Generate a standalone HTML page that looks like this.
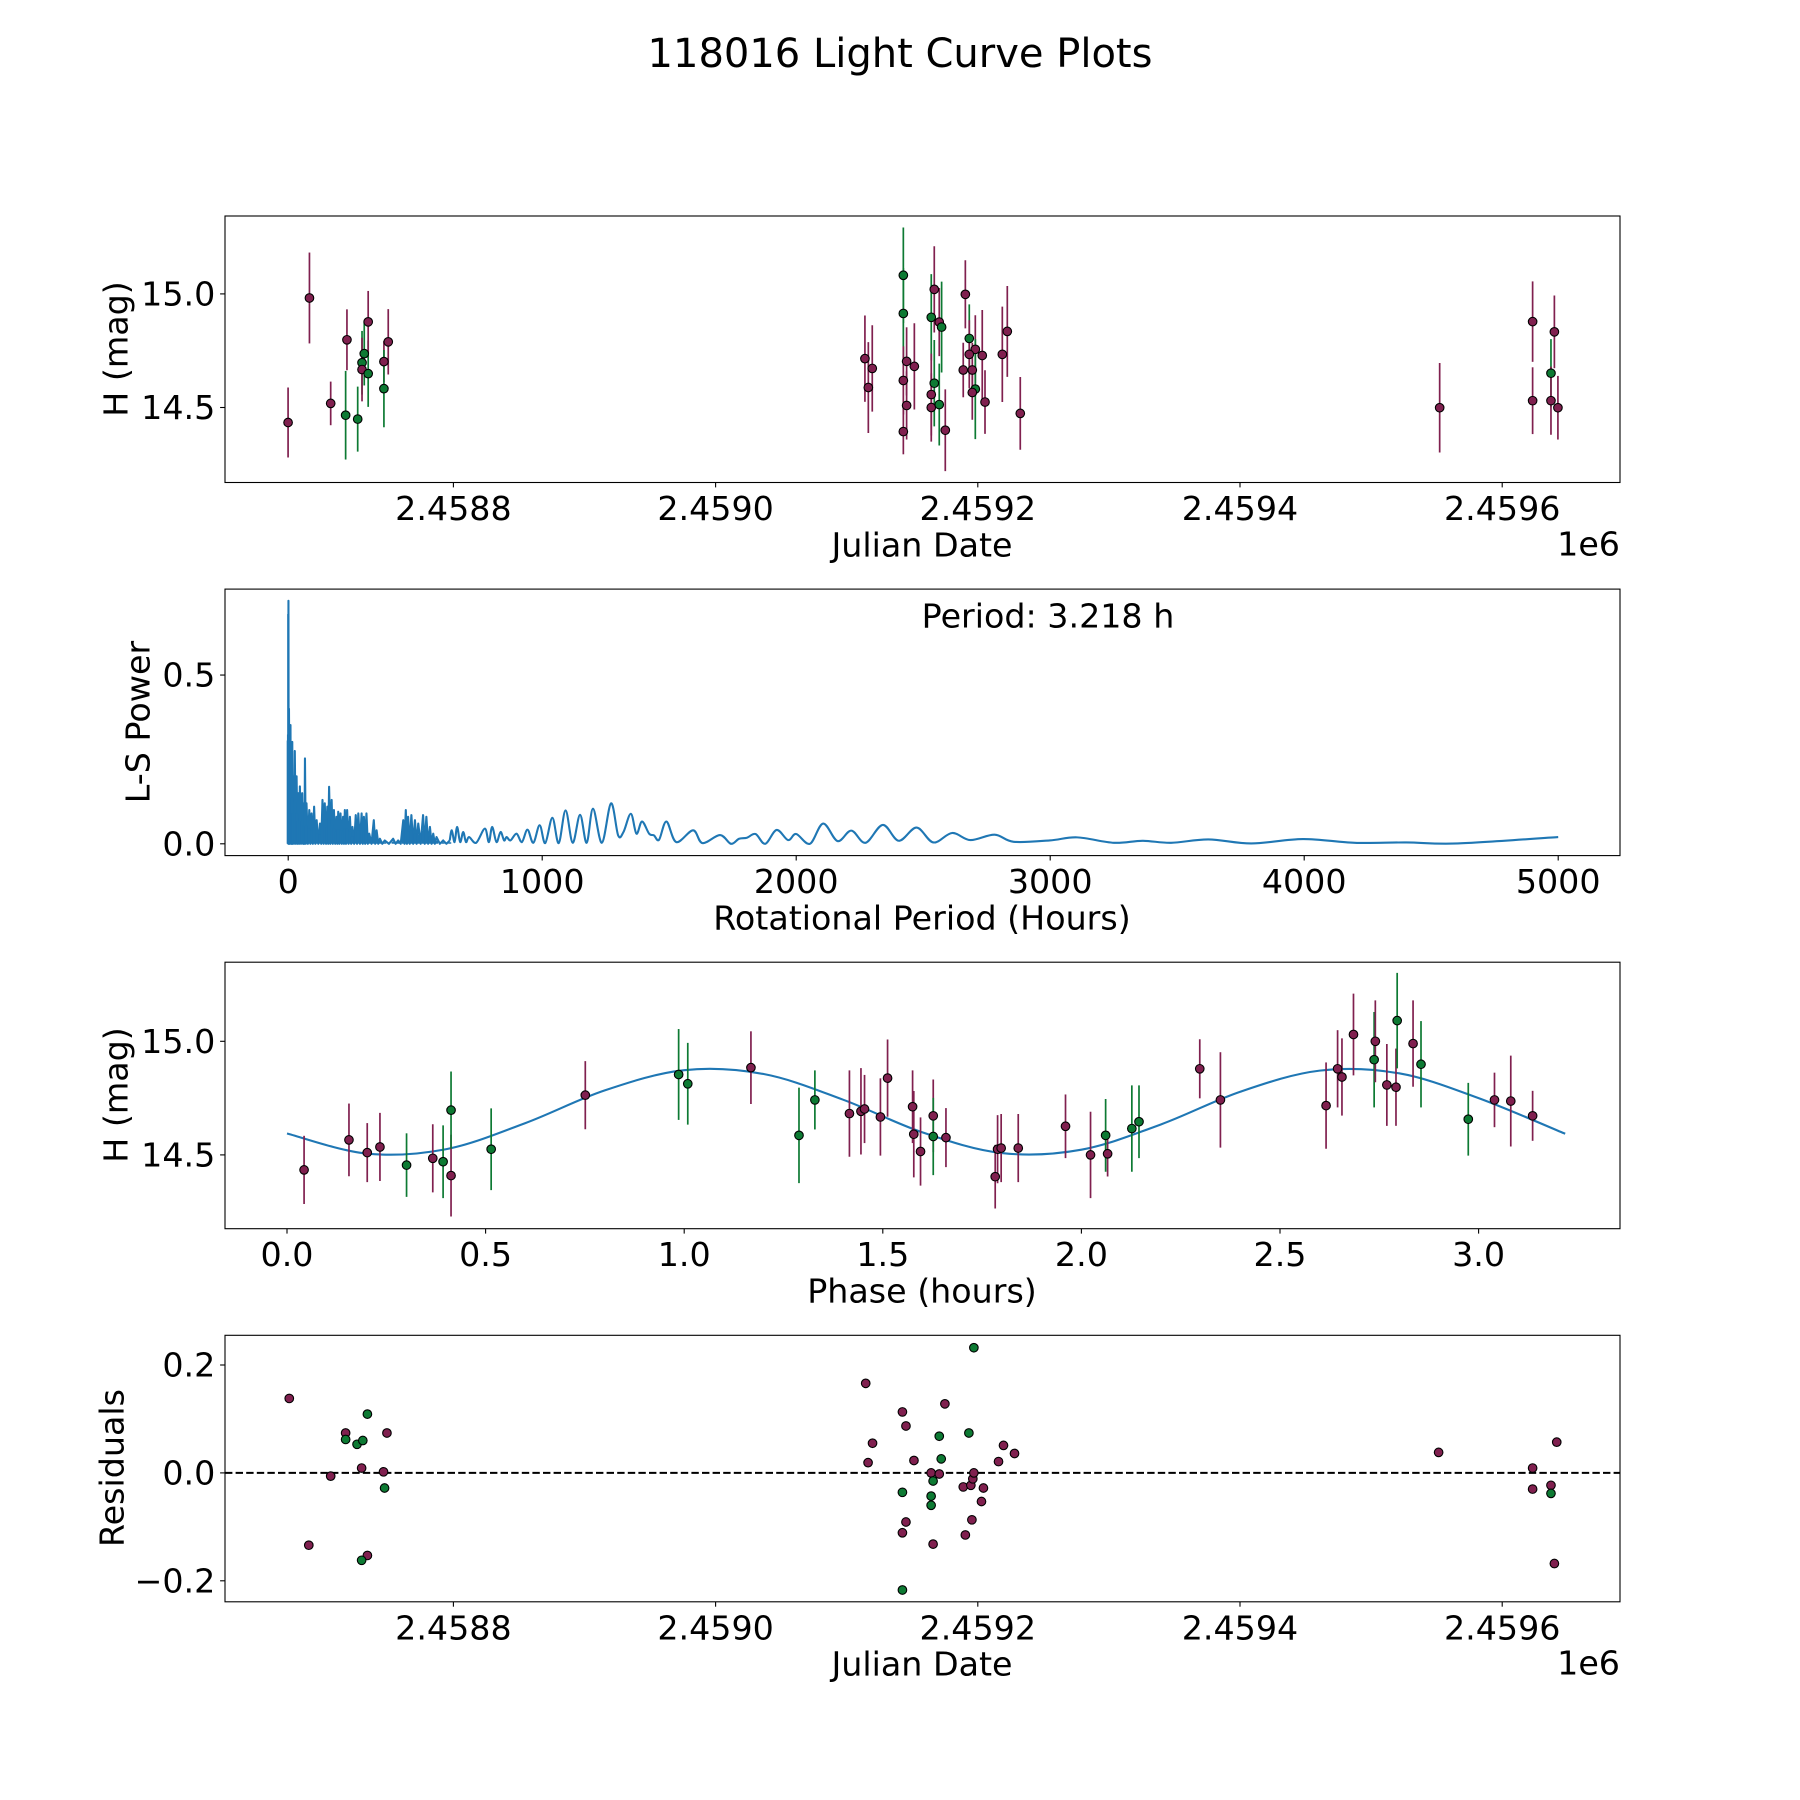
<!DOCTYPE html>
<html><head><meta charset="utf-8"><title>118016 Light Curve Plots</title>
<style>
html,body{margin:0;padding:0;background:#fff;}
svg{display:block;font-family:"DejaVu Sans","Liberation Sans",sans-serif;}
</style></head>
<body>
<svg id="fig" width="1800" height="1800" viewBox="0 0 1800 1800" xmlns="http://www.w3.org/2000/svg">
<rect width="1800" height="1800" fill="#fff"/>
<text x="900" y="54" text-anchor="middle" dominant-baseline="central" font-size="40">118016 Light Curve Plots</text>
</svg>
<script>
// ---------- data: panel 1 light curve (JD - 2458000) ----------
const lcDay = [673.9,690.2,706.4,718.8,717.8,727,732,730.3,730.3,735,735,747,750.3,747,
 1113.9,1119.5,1116.5,1143.2,1143.2,1145.7,1151.6,1143.2,1145.7,1143.2,1166.8,1164.5,1170.6,1172.4,1166.8,1164.5,1164.5,1170.6,1175.2,1190.5,1193.5,1198.1,1193.5,1203.4,1188.9,1195.8,1198.1,1195.8,1205.5,1218.7,1222.5,1232.4,
 1552.3,1623.2,1623.2,1637.2,1637.2,1639.8,1642.5];
const lcMag = [14.434,14.982,14.518,14.798,14.466,14.449,14.737,14.697,14.667,14.649,14.877,14.702,14.789,14.583,
 14.715,14.672,14.588,15.082,14.914,14.703,14.681,14.619,14.509,14.394,15.020,14.897,14.876,14.854,14.607,14.557,14.500,14.513,14.400,14.998,14.804,14.756,14.734,14.729,14.665,14.665,14.581,14.566,14.524,14.734,14.835,14.474,
 14.499,14.878,14.530,14.651,14.530,14.833,14.499];
const lcErr = [0.154,0.2,0.096,0.134,0.195,0.143,0.14,0.14,0.14,0.146,0.136,0.09,0.144,0.17,
 0.19,0.19,0.2,0.21,0.2,0.15,0.19,0.15,0.15,0.1,0.19,0.19,0.15,0.2,0.19,0.18,0.15,0.18,0.18,0.15,0.15,0.15,0.15,0.2,0.12,0.12,0.22,0.12,0.14,0.21,0.2,0.16,
 0.197,0.177,0.147,0.15,0.15,0.16,0.14];
const lcBand = ['M','M','M','M','G','G','G','G','M','G','M','M','M','G',
 'M','M','M','G','G','M','M','M','M','M','M','G','M','G','G','M','M','G','M','M','G','M','M','M','M','M','G','M','M','M','M','M',
 'M','M','M','G','M','M','M'];
const jdTickDays = [800,1000,1200,1400,1600];
const jdTickLabels = ['2.4588','2.4590','2.4592','2.4594','2.4596'];
const magTicks = [14.5,15.0];
const magTickLabels = ['14.5','15.0'];

// ---------- data: panel 2 periodogram ----------
const lsDensePeriod = [0,1,3,9,12,16,20,26,33,40,46,55,62,66,72,83,92,102,112,125,135,144,154,161,171,180,190,197,206,216,223,232,243,253,266,276,289,298,308,319,337,348,361,380,413,433,453,463,472,485,499,512,531,544,558,571,584,610,636];
const lsDensePower = [0.68,0.72,0.40,0.352,0.25,0.302,0.20,0.275,0.20,0.15,0.17,0.15,0.12,0.253,0.12,0.10,0.09,0.11,0.07,0.06,0.13,0.12,0.11,0.169,0.13,0.10,0.08,0.095,0.09,0.08,0.10,0.10,0.08,0.05,0.085,0.09,0.09,0.08,0.09,0.03,0.07,0.04,0.015,0.01,0.015,0.01,0.07,0.10,0.08,0.085,0.07,0.06,0.085,0.08,0.05,0.03,0.02,0.01,0.01];
const lsPeriod = [636,644,655,665,677,689,700,712,740,774,790,803,820,836,850,860,875,899,920,942,965,990,1012,1040,1065,1092,1120,1149,1175,1200,1235,1271,1299,1320,1349,1371,1393,1421,1440,1460,1489,1528,1594,1631,1700,1743,1775,1806,1840,1878,1923,1968,2000,2054,2106,2163,2217,2273,2341,2404,2474,2540,2614,2686,2781,2856,2998,3106,3251,3363,3476,3623,3792,3995,4199,4402,4605,5000];
const lsPower = [0.01,0.04,0.005,0.05,0.005,0.035,0.005,0.02,0.003,0.045,0.005,0.05,0.005,0.035,0.01,0.02,0.01,0.03,0.005,0.042,0.003,0.055,0.002,0.077,0.002,0.099,0.003,0.086,0.003,0.104,0.003,0.12,0.025,0.035,0.089,0.03,0.066,0.03,0.025,0.012,0.066,0.005,0.04,0.002,0.026,0.0,0.015,0.018,0.029,0.0,0.041,0.011,0.029,0.0,0.06,0.008,0.039,0.003,0.056,0.009,0.048,0.004,0.032,0.011,0.027,0.006,0.010,0.019,0.003,0.009,0.003,0.013,0.001,0.014,0.003,0.004,0.001,0.02];
const periodTicks = [0,1000,2000,3000,4000,5000];
const periodTickLabels = ['0','1000','2000','3000','4000','5000'];
const powerTicks = [0.0,0.5];
const powerTickLabels = ['0.0','0.5'];

// ---------- data: panel 3 phase-folded ----------
const phase = [0.043,0.156,0.202,0.234,0.301,0.367,0.393,0.413,0.413,0.514,0.751,0.986,1.009,1.168,1.289,1.329,1.416,1.445,1.454,1.494,1.512,1.575,1.578,1.595,1.627,1.627,1.659,1.783,1.789,1.798,1.841,1.960,2.023,2.061,2.066,2.127,2.145,2.298,2.350,2.616,2.645,2.656,2.685,2.737,2.740,2.769,2.792,2.795,2.835,2.855,2.974,3.040,3.081,3.136];
const phaseMag = [14.434,14.566,14.510,14.535,14.455,14.485,14.470,14.409,14.697,14.525,14.763,14.854,14.813,14.884,14.586,14.742,14.682,14.692,14.702,14.667,14.838,14.712,14.591,14.515,14.672,14.581,14.576,14.404,14.525,14.530,14.530,14.626,14.500,14.586,14.505,14.616,14.646,14.879,14.742,14.717,14.879,14.843,15.030,14.919,15.0,14.808,14.798,15.091,14.990,14.899,14.657,14.742,14.737,14.672];
const phaseErr = [0.15,0.16,0.13,0.15,0.14,0.15,0.16,0.18,0.17,0.18,0.15,0.2,0.18,0.16,0.21,0.13,0.19,0.19,0.15,0.17,0.17,0.16,0.19,0.15,0.16,0.17,0.13,0.14,0.15,0.15,0.15,0.14,0.19,0.16,0.1,0.19,0.16,0.13,0.21,0.19,0.17,0.17,0.18,0.21,0.18,0.18,0.17,0.21,0.19,0.19,0.16,0.12,0.2,0.11];
const phaseBand = ['M','M','M','M','G','M','G','M','G','G','M','G','G','M','G','G','M','M','M','M','M','M','M','M','M','G','M','M','M','M','M','M','M','G','M','G','G','M','M','M','M','M','M','G','M','M','M','G','M','G','G','M','M','M'];
const fitPhase = [0,0.2,0.4,0.6,0.8,1.0,1.2,1.4,1.6,1.8,2.0,2.2,2.4,2.6,2.8,3.0,3.218];
const fitMag = [14.594,14.506,14.525,14.640,14.784,14.873,14.856,14.743,14.599,14.508,14.523,14.634,14.778,14.871,14.859,14.750,14.593];
const phaseTicks = [0,0.5,1.0,1.5,2.0,2.5,3.0];
const phaseTickLabels = ['0.0','0.5','1.0','1.5','2.0','2.5','3.0'];

// ---------- data: panel 4 residuals ----------
const resDay = [674.8,689.7,706.4,717.8,717.8,726.5,730.9,730,734.4,734.4,730,746.7,747.5,749.3,
 1114.5,1116.3,1119.7,1142.5,1145.2,1142.5,1145.2,1142.5,1142.5,1151.3,1164.4,1164.4,1164.4,1165.9,1165.9,1170.6,1170.6,1172.1,1174.9,1188.9,1190.5,1193.2,1194.7,1196.2,1197,1195.5,1197,1202.8,1204.3,1215.8,1219.6,1228,
 1551.5,1623.2,1623.2,1637.2,1637.2,1639.8,1641.6];
const resVal = [0.138,-0.134,-0.006,0.074,0.062,0.053,0.06,0.009,0.109,-0.153,-0.162,0.002,-0.028,0.074,
 0.166,0.019,0.055,0.113,0.087,-0.036,-0.091,-0.111,-0.217,0.023,0.0,-0.043,-0.06,-0.015,-0.132,0.068,-0.002,0.026,0.128,-0.026,-0.115,0.074,-0.023,-0.011,0.0,-0.087,0.232,-0.053,-0.028,0.021,0.051,0.036,
 0.038,0.009,-0.03,-0.023,-0.038,-0.168,0.057];
const resBand = ['M','M','M','M','G','G','G','M','G','M','G','M','G','M',
 'M','M','M','M','M','G','M','M','G','M','M','G','G','G','M','G','M','G','M','M','M','G','M','M','M','M','G','M','M','M','M','M',
 'M','M','M','M','G','M','M'];
const resTicks = [-0.2,0.0,0.2];
const resTickLabels = ['\u22120.2','0.0','0.2'];

// ---------- rendering ----------
const NS='http://www.w3.org/2000/svg';
const svg=document.getElementById('fig');
const COL={M:'#80204f',G:'#0d7a33'};
const BLUE='#1f77b4';
const FS=33.3;
const L=225,R=1620,AH=266.5;
const TOPS=[216,589.1,962.2,1335.3];
function mk(tag,attrs,parent){const e=document.createElementNS(NS,tag);for(const k in attrs)e.setAttribute(k,attrs[k]);(parent||svg).appendChild(e);return e;}
function lin(d0,d1,p0,p1){return v=>p0+(v-d0)*(p1-p0)/(d1-d0);}

function axesFrame(g,top,name){
  const r=mk('rect',{x:L,y:top,width:R-L,height:AH,fill:'none',stroke:'#000','stroke-width':1.1},g);
  
  
}
function xTicks(g,top,xs,vals,labels,name){
  const bot=top+AH;
  vals.forEach((v,i)=>{
    const x=xs(v);
    const t=mk('line',{x1:x,y1:bot,x2:x,y2:bot+4.9,stroke:'#000','stroke-width':1.1},g);
    
    
    const tx=mk('text',{x:x,y:bot+26,'text-anchor':'middle','dominant-baseline':'central','font-size':FS},g);
    tx.textContent=labels[i];
    
    
  });
}
function yTicks(g,top,ys,vals,labels,name){
  vals.forEach((v,i)=>{
    const y=ys(v);
    const t=mk('line',{x1:L-4.9,y1:y,x2:L,y2:y,stroke:'#000','stroke-width':1.1},g);
    
    
    const tx=mk('text',{x:L-9.7,y:y,'text-anchor':'end','dominant-baseline':'central','font-size':FS},g);
    tx.textContent=labels[i];
    
    
  });
}
function label(g,x,y,txt,rot,name){
  const t=mk('text',{x:x,y:y,'text-anchor':'middle','dominant-baseline':'central','font-size':FS},g);
  if(rot)t.setAttribute('transform','rotate(-90 '+x+' '+y+')');
  t.textContent=txt;
  
  
  return t;
}
function clip(id,top){
  const cp=mk('clipPath',{id:id});
  mk('rect',{x:L,y:top,width:R-L,height:AH},cp);
}
function errPoints(g,xs,ys,X,Y,E,B,name){
  X.forEach((xv,i)=>{
    const x=xs(xv);
    const eb=mk('line',{x1:x,y1:ys(Y[i]+E[i]),x2:x,y2:ys(Y[i]-E[i]),stroke:COL[B[i]],'stroke-width':1.7},g);
    
    
  });
  X.forEach((xv,i)=>{
    const c=mk('circle',{cx:xs(xv),cy:ys(Y[i]),r:4.3,fill:COL[B[i]],stroke:'#000','stroke-width':1.1},g);
    
    
  });
}
function smoothPath(P){
  let d='M'+P[0][0]+','+P[0][1];
  for(let i=0;i<P.length-1;i++){
    const p0=P[Math.max(0,i-1)],p1=P[i],p2=P[i+1],p3=P[Math.min(P.length-1,i+2)];
    const c1x=p1[0]+(p2[0]-p0[0])/6,c1y=p1[1]+(p2[1]-p0[1])/6;
    const c2x=p2[0]-(p3[0]-p1[0])/6,c2y=p2[1]-(p3[1]-p1[1])/6;
    d+=' C'+c1x+','+c1y+' '+c2x+','+c2y+' '+p2[0]+','+p2[1];
  }
  return d;
}

// Panel 1
(function(){
  const top=TOPS[0];
  const g=mk('g',{});
  
  
  const xs=lin(800,1600,453.4,1502.2);
  const ys=lin(15.0,14.5,293.9,407.5);
  clip('c1',top);
  const pg=mk('g',{'clip-path':'url(#c1)'},g);
  errPoints(pg,xs,ys,lcDay,lcMag,lcErr,lcBand,'light-curve');
  axesFrame(g,top,'light-curve');
  xTicks(g,top,xs,jdTickDays,jdTickLabels,'light-curve');
  yTicks(g,top,ys,magTicks,magTickLabels,'light-curve');
  label(g,922,545,'Julian Date',false,'x-axis-title-julian-date');
  const o=mk('text',{x:R,y:544,'text-anchor':'end','dominant-baseline':'central','font-size':FS},g);
  o.textContent='1e6';
  
  
  label(g,116,349,'H (mag)',true,'y-axis-title-h-mag');
})();

// Panel 2
(function(){
  const top=TOPS[1];
  const g=mk('g',{});
  
  
  const xs=lin(0,1000,288.2,542.2);
  const ys=lin(0,0.5,843.8,675.05);
  clip('c2',top);
  const pg=mk('g',{'clip-path':'url(#c2)'},g);
  let d='M'+xs(lsDensePeriod[0])+','+ys(0);
  lsDensePeriod.forEach((p,i)=>{
    d+=' L'+xs(p)+','+ys(lsDensePower[i]);
    if(i<lsDensePeriod.length-1){
      const mid=(p+lsDensePeriod[i+1])/2;
      d+=' L'+xs(mid)+','+ys(0);
    }
  });
  const zz=mk('path',{d:d,fill:'none',stroke:BLUE,'stroke-width':2.1,'stroke-linejoin':'round'},pg);
  
  
  lsDensePeriod.forEach((p,i)=>{
    const s=mk('line',{x1:xs(p),y1:ys(0),x2:xs(p),y2:ys(lsDensePower[i]*0.45),stroke:BLUE,'stroke-width':3},pg);
    
    
  });
  const P=lsPeriod.map((p,i)=>[xs(p),ys(lsPower[i])]);
  const ln=mk('path',{d:smoothPath(P),fill:'none',stroke:BLUE,'stroke-width':2.1},pg);
  
  
  axesFrame(g,top,'periodogram');
  xTicks(g,top,xs,periodTicks,periodTickLabels,'periodogram');
  yTicks(g,top,ys,powerTicks,powerTickLabels,'periodogram');
  label(g,922,918,'Rotational Period (Hours)',false,'x-axis-title-rotational-period');
  label(g,138,722,'L-S Power',true,'y-axis-title-ls-power');
  const a=mk('text',{x:1048,y:616,'text-anchor':'middle','dominant-baseline':'central','font-size':FS},g);
  a.textContent='Period: 3.218 h';
  
  
})();

// Panel 3
(function(){
  const top=TOPS[2];
  const g=mk('g',{});
  
  
  const xs=lin(0,3,287,1478.6);
  const ys=lin(15.0,14.5,1041.3,1154.9);
  clip('c3',top);
  const pg=mk('g',{'clip-path':'url(#c3)'},g);
  const P=fitPhase.map((p,i)=>[xs(p),ys(fitMag[i])]);
  const ln=mk('path',{d:smoothPath(P),fill:'none',stroke:BLUE,'stroke-width':2.1},pg);
  
  
  errPoints(pg,xs,ys,phase,phaseMag,phaseErr,phaseBand,'phase');
  axesFrame(g,top,'phase');
  xTicks(g,top,xs,phaseTicks,phaseTickLabels,'phase');
  yTicks(g,top,ys,magTicks,magTickLabels,'phase');
  label(g,922,1291,'Phase (hours)',false,'x-axis-title-phase');
  label(g,116,1095,'H (mag)',true,'y-axis-title-phase-mag');
})();

// Panel 4
(function(){
  const top=TOPS[3];
  const g=mk('g',{});
  
  
  const xs=lin(800,1600,453.4,1502.2);
  const ys=lin(0,0.2,1472.9,1365.0);
  clip('c4',top);
  const pg=mk('g',{'clip-path':'url(#c4)'},g);
  const z=mk('line',{x1:L,y1:ys(0),x2:R,y2:ys(0),stroke:'#000','stroke-width':2,'stroke-dasharray':'7.4,3.2'},pg);
  
  
  resDay.forEach((dv,i)=>{
    const c=mk('circle',{cx:xs(dv),cy:ys(resVal[i]),r:4.3,fill:COL[resBand[i]],stroke:'#000','stroke-width':1.1},pg);
    
    
  });
  axesFrame(g,top,'residuals');
  xTicks(g,top,xs,jdTickDays,jdTickLabels,'residuals');
  yTicks(g,top,ys,resTicks,resTickLabels,'residuals');
  label(g,922,1664,'Julian Date',false,'x-axis-title-residual-julian-date');
  const o=mk('text',{x:R,y:1663,'text-anchor':'end','dominant-baseline':'central','font-size':FS},g);
  o.textContent='1e6';
  
  
  label(g,112,1468,'Residuals',true,'y-axis-title-residuals');
})();
</script>
</body></html>
